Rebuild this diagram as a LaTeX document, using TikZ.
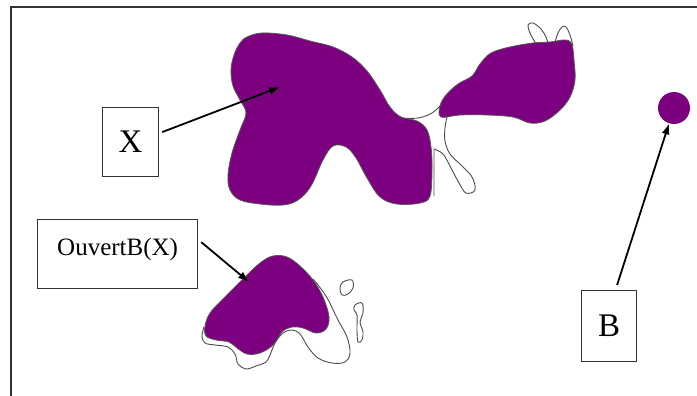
\documentclass[tikz,border=0pt]{standalone}
\usepackage{fontspec}
\setmainfont{Liberation Serif}
\usetikzlibrary{arrows.meta,positioning,calc}
\definecolor{blobpurple}{RGB}{124,0,128}

\begin{document}
\begin{tikzpicture}[
    x=1pt, y=-1pt,
    blob/.style={fill=blobpurple, draw=black!65, line width=0.8pt},
    hull/.style={draw=black!70, line width=0.9pt},
    tag/.style={rectangle, draw=black!80, line width=1.2pt, inner sep=0pt, font=\fontsize{33}{38}\selectfont},
    arrow/.style={-{Latex[length=11pt,width=8pt]}, line width=1.8pt}
]
    \useasboundingbox (0,0) rectangle (697,396);
    % frame
    \draw[black!80, line width=1.2pt] (697,7) -- (11,7) -- (11,396);

    % opened set, big part
    \draw[blob] plot[smooth cycle, tension=0.6] coordinates {(247,37) (262,33) (287,35) (310,41) (333,47) (352,57) (367,71) (380,90) (390,107) (401,117) (417,121) (427,130) (431,147) (432,170) (430,196) (420,203) (397,204) (380,197) (367,178) (356,158) (346,147) (333,146) (323,160) (311,186) (298,200) (283,205) (260,204) (240,200) (230,190) (228,175) (232,153) (240,130) (246,113) (240,100) (233,86) (231,70) (234,55) (240,43)};
    % opened set, right part
    \draw[blob] plot[smooth cycle, tension=0.6] coordinates {(441,117) (440,106) (446,95) (458,84) (472,76) (480,64) (491,53) (510,47) (533,43) (550,42) (566,40) (572,45) (574,60) (575,80) (570,97) (560,110) (545,121) (530,123) (513,117) (487,115) (460,115)};
    % opened set, lower part
    \draw[blob] plot[smooth cycle, tension=0.6] coordinates {(205,326) (210,313) (223,299) (243,279) (260,263) (273,256) (287,257) (300,266) (313,280) (323,297) (329,317) (326,329) (316,333) (303,328) (292,327) (282,332) (273,345) (260,353) (247,354) (237,348) (229,342) (216,340) (206,336)};

    % what the opening removes
    \draw[hull] plot[smooth, tension=0.6] coordinates {(401,118) (418,118) (432,113) (442,104)};
    \draw[hull] plot[smooth, tension=0.6] coordinates {(447,117) (445,128) (445,141) (450,154) (462,166) (472,177) (475,190) (466,193) (459,183) (451,168) (443,154) (434,149)} -- (434,196);
    \draw[hull] plot[smooth, tension=0.6] coordinates {(536,44) (530,33) (528,25) (533,23) (541,29) (546,37) (548,43)};
    \draw[hull] plot[smooth, tension=0.6] coordinates {(555,42) (558,33) (562,27) (566,27) (570,35) (573,46)};
    \draw[hull] plot[smooth, tension=0.6] coordinates {(313,279) (326,296) (338,320) (347,337) (350,353) (345,362) (332,363) (318,358) (308,347) (300,334) (292,330) (283,333) (275,343) (270,355) (266,362) (256,366) (246,369) (238,364) (235,354) (228,347) (215,345) (205,343) (202,336) (204,327)};
    \draw[hull] plot[smooth cycle, tension=0.6] coordinates {(343,282) (352,280) (353,288) (348,294) (342,295) (340,288)};
    \draw[hull] plot[smooth cycle, tension=0.6] coordinates {(355,305) (362,303) (363,313) (360,322) (363,332) (362,340) (358,342) (357,330) (357,315) (354,310)};

    % structuring element
    \node[circle, fill=blobpurple, minimum size=32pt, inner sep=0pt] (bdisk) at (674,108) {};

    % labels
    \node[tag, minimum width=56pt, minimum height=69pt, anchor=north west] (xbox) at (102,107) {X};
    \node[tag, font=\fontsize{25}{30}\selectfont, minimum width=160pt, text height=36pt, text depth=33pt, anchor=north west] (obox) at (37,219) {OuvertB(X)};
    \node[tag, minimum width=55pt, minimum height=71pt, anchor=north west] (bbox) at (581,290) {B};

    \coordinate (xtip) at (280,87);
    \coordinate (otip) at (249,282);

    \draw[arrow] ($(xbox.east)+(3,-10)$) -- (xtip);
    \draw[arrow] ($(obox.east)+(3,-12)$) -- (otip);
    \draw[arrow] ($(bbox.north)+(8,-5)$) -- (bdisk);
\end{tikzpicture}
\end{document}
